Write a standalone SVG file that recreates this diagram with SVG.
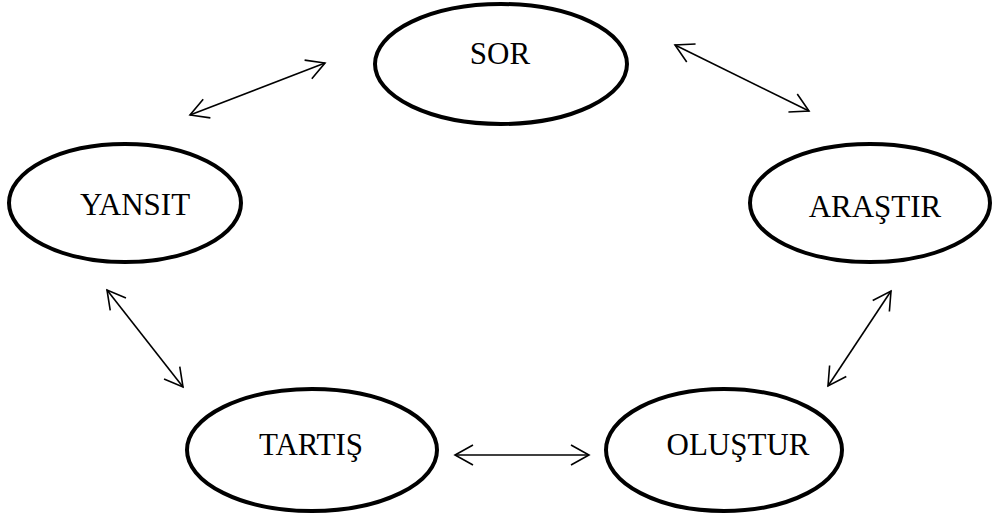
<svg xmlns="http://www.w3.org/2000/svg" width="994" height="518" viewBox="0 0 994 518">
<style>
.node ellipse{fill:#fff;stroke:#000;stroke-width:4}
.node text{font-family:"Liberation Serif","Times New Roman",serif;font-size:31px;fill:#000;text-anchor:middle}
.conn line{stroke:#000;stroke-width:1.6;fill:none;marker-start:url(#ah);marker-end:url(#ah)}
</style>
<defs>
<marker id="ah" markerUnits="userSpaceOnUse" viewBox="-22 -12 26 24" refX="0" refY="0" markerWidth="26" markerHeight="24" orient="auto-start-reverse">
<path d="M -18 -10 L 0 0 L -18 10" fill="none" stroke="#000" stroke-width="1.6"/>
</marker>
</defs>
<rect width="994" height="518" fill="#fff"/>
<g id="sor" class="node"><ellipse cx="501" cy="64" rx="126" ry="60"/><text x="500" y="64">SOR</text></g>
<g id="yansit" class="node"><ellipse cx="125" cy="203" rx="116" ry="59"/><text x="135" y="215">YANSIT</text></g>
<g id="arastir" class="node"><ellipse cx="870" cy="203" rx="120" ry="59"/><text x="875" y="217">ARAŞTIR</text></g>
<g id="tartis" class="node"><ellipse cx="312" cy="450" rx="125" ry="61"/><text x="311" y="455">TARTIŞ</text></g>
<g id="olustur" class="node"><ellipse cx="724" cy="450" rx="118" ry="61"/><text x="738" y="455">OLUŞTUR</text></g>
<g id="connectors" class="conn">
<line x1="190" y1="115" x2="325" y2="63"/>
<line x1="675" y1="45" x2="809" y2="111"/>
<line x1="107" y1="290" x2="183" y2="387"/>
<line x1="891" y1="291" x2="828" y2="386"/>
<line x1="455" y1="455" x2="589" y2="455"/>
</g>
</svg>
